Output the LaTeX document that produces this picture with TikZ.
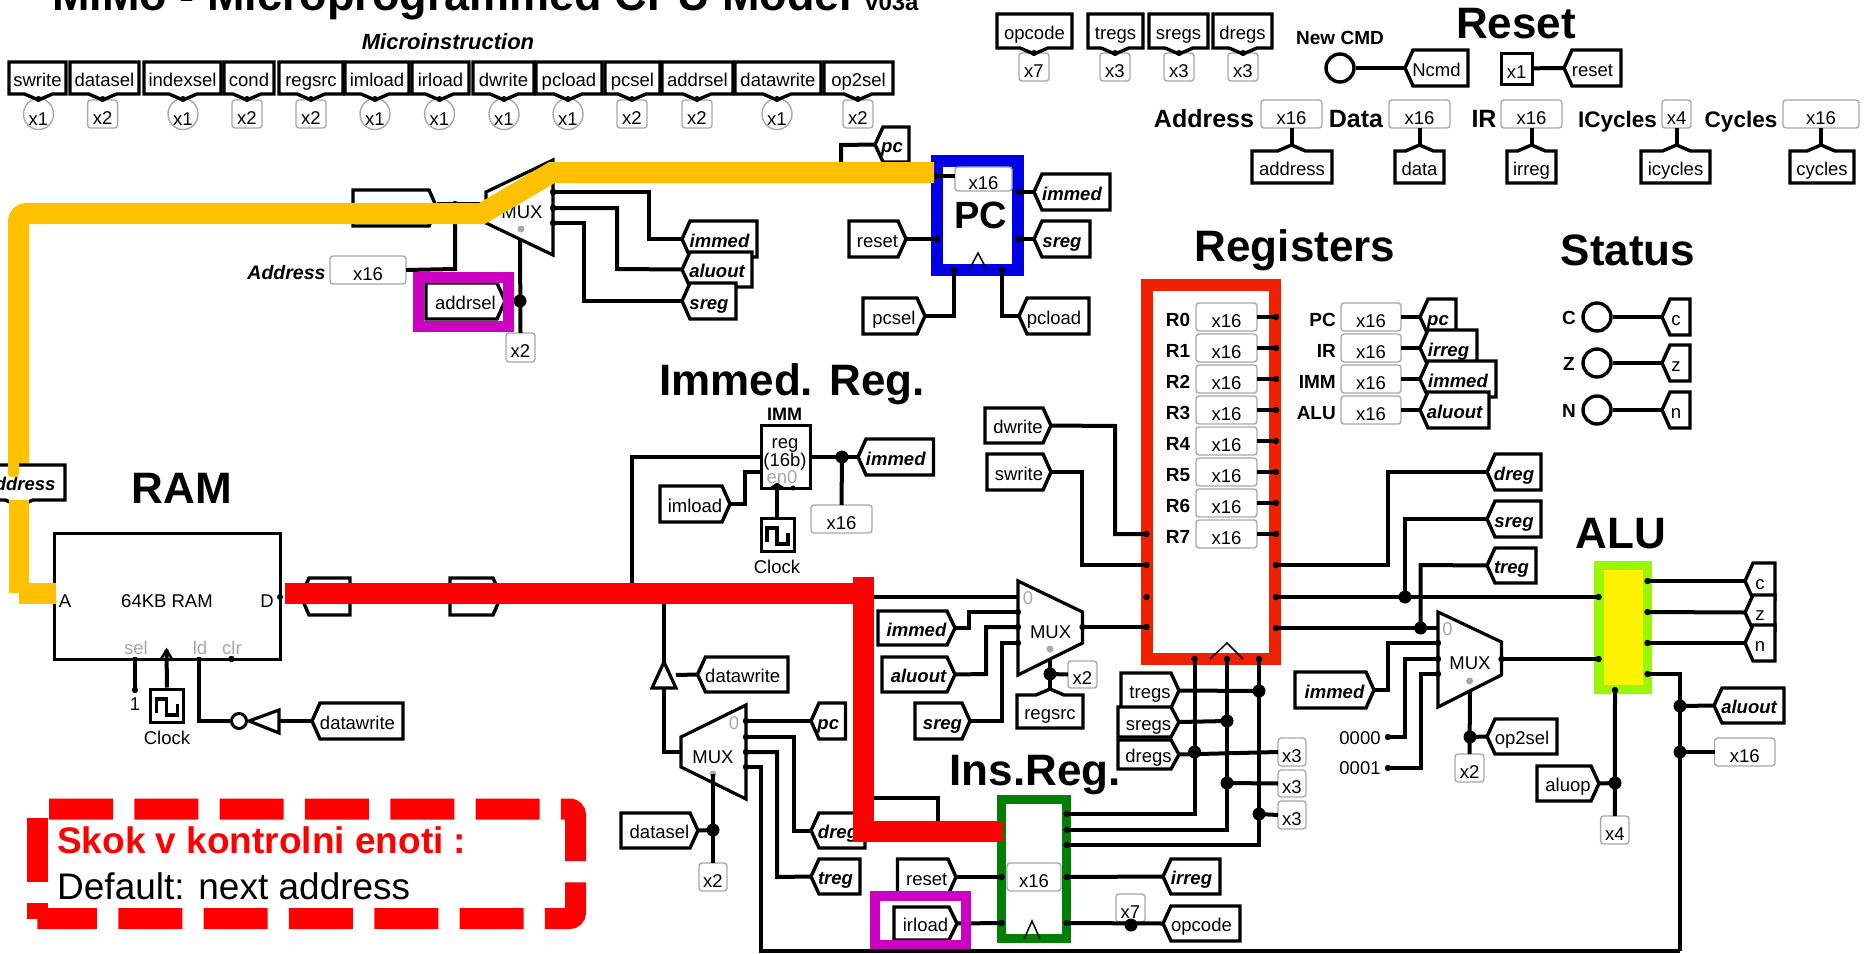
\documentclass[tikz,border=0pt]{standalone}
\usepackage{fontspec}
\setmainfont{Liberation Sans}
\usetikzlibrary{shapes.geometric}
\definecolor{hlorange}{HTML}{FFC000}
\definecolor{hlred}{HTML}{FF0000}
\definecolor{hlblue}{HTML}{0000E6}
\definecolor{hlreg}{HTML}{EE2200}
\definecolor{hlgreen}{HTML}{008000}
\definecolor{hllime}{HTML}{99F800}
\definecolor{hlpurple}{HTML}{CC00C0}
\definecolor{pingray}{HTML}{A8A8A8}
\tikzset{
  wire/.style={line width=4pt,black,line join=miter},
  thinw/.style={line width=2.4pt,black},
  tagline/.style={draw=black,fill=white,line width=3.4pt,line join=miter},
  tagtext/.style={inner sep=0pt,outer sep=0pt,font=\fontsize{18.5}{18.5}\selectfont,text height=17pt,text depth=1pt,align=center},
  bi/.style={font=\fontsize{18.5}{18.5}\selectfont\bfseries\itshape},
  valbox/.style={draw=pingray,fill=white,line width=1.4pt,rounded corners=3pt,inner sep=0pt,outer sep=0pt,font=\fontsize{18.5}{18.5}\selectfont,text height=21pt,text depth=1pt},
  valell/.style={ellipse,draw=pingray,fill=white,line width=1.4pt,inner sep=0pt,outer sep=0pt,font=\fontsize{18.5}{18.5}\selectfont,text height=22pt,text depth=0pt},
  title/.style={font=\fontsize{44}{44}\selectfont\bfseries,inner sep=0pt},
  blab/.style={font=\fontsize{19}{19}\selectfont\bfseries,inner sep=0pt},
  biglab/.style={font=\fontsize{25}{25}\selectfont\bfseries,inner sep=0pt,anchor=base},
  plain/.style={font=\fontsize{18.5}{18.5}\selectfont,inner sep=0pt},
  graylab/.style={font=\fontsize{18.5}{18.5}\selectfont,text=pingray,inner sep=0pt},
  muxshape/.style={draw=black,fill=white,line width=3.2pt,line join=miter},
  caret/.style={draw=black,line width=1.5pt},
  frameline/.style={inner sep=0pt,outer sep=0pt},
}
\newcommand\TagL[7][]{\pgfmathsetmacro\tcx{(#3+#4)/2}\pgfmathsetmacro\tcy{(#5+#6)/2}\pgfmathsetmacro\tw{#4-#3}\pgfmathsetmacro\th{#6-#5}%
  \path[tagline] (#3,\tcy) -- (#3+8,#5) -- (#4,#5) -- (#4,#6) -- (#3+8,#6) -- cycle;
  \node[tagtext,#1,minimum width=\tw pt,minimum height=\th pt] (#2) at (\tcx,\tcy) {#7};}
\newcommand\TagR[7][]{\pgfmathsetmacro\tcx{(#3+#4)/2}\pgfmathsetmacro\tcy{(#5+#6)/2}\pgfmathsetmacro\tw{#4-#3}\pgfmathsetmacro\th{#6-#5}%
  \path[tagline] (#4,\tcy) -- (#4-8,#5) -- (#3,#5) -- (#3,#6) -- (#4-8,#6) -- cycle;
  \node[tagtext,#1,minimum width=\tw pt,minimum height=\th pt] (#2) at (\tcx,\tcy) {#7};}
% TagD/TagU: [style]{name}{x0}{x1}{y0}{y1}{tipx}{text}
\newcommand\TagD[8][]{\pgfmathsetmacro\tcx{(#3+#4)/2}\pgfmathsetmacro\tcy{(#5+#6)/2}\pgfmathsetmacro\tw{#4-#3}\pgfmathsetmacro\th{#6-#5}%
  \path[tagline] (#3,#5) -- (#4,#5) -- (#4,#6) -- (#7+14,#6) -- (#7,#6+6) -- (#7-14,#6) -- (#3,#6) -- cycle;
  \coordinate (#2-tip) at (#7,#6+5);
  \node[tagtext,#1,minimum width=\tw pt,minimum height=\th pt] (#2) at (\tcx,\tcy) {#8};}
\newcommand\TagU[8][]{\pgfmathsetmacro\tcx{(#3+#4)/2}\pgfmathsetmacro\tcy{(#5+#6)/2}\pgfmathsetmacro\tw{#4-#3}\pgfmathsetmacro\th{#6-#5}%
  \path[tagline] (#3,#6) -- (#4,#6) -- (#4,#5) -- (#7+14,#5) -- (#7,#5-6) -- (#7-14,#5) -- (#3,#5) -- cycle;
  \coordinate (#2-tip) at (#7,#5-5);
  \node[tagtext,#1,minimum width=\tw pt,minimum height=\th pt] (#2) at (\tcx,\tcy) {#8};}
% [style]{name}{x0}{x1}{y0}{y1}{text}
\newcommand\Val[7][valbox]{\pgfmathsetmacro\tcx{(#3+#4)/2}\pgfmathsetmacro\tcy{(#5+#6)/2}\pgfmathsetmacro\tw{#4-#3}\pgfmathsetmacro\th{#6-#5}%
  \node[#1,minimum width=\tw pt,minimum height=\th pt] (#2) at (\tcx,\tcy) {#7};}
% {name}{colour}{line width}{cx0}{cx1}{cy0}{cy1}{fill}
\newcommand\Frame[8]{\pgfmathsetmacro\tcx{(#4+#5)/2}\pgfmathsetmacro\tcy{(#6+#7)/2}\pgfmathsetmacro\tw{#5-#4}\pgfmathsetmacro\th{#7-#6}%
  \node[frameline,draw=#2,line width=#3pt,fill=#8,minimum width=\tw pt,minimum height=\th pt] (#1) at (\tcx,\tcy) {};}
\newcommand\Pt[3]{\coordinate (#1) at (#2,#3); \fill (#1) circle (3.2pt);}
\newcommand\Jn[3]{\coordinate (#1) at (#2,#3); \fill (#1) circle (6.5pt);}
% clock: {name}{x}{y} top-left, 33x33
\newcommand\ClockBox[3]{\pgfmathsetmacro\tcx{#2+16.5}\pgfmathsetmacro\tcy{#3+16.5}%
  \node[draw=black,fill=white,line width=3pt,inner sep=0pt,minimum size=33pt] (#1) at (\tcx,\tcy) {};
  \draw[line width=3.4pt,line join=miter] (#2+6,#3+24) -- (#2+6,#3+10) -- (#2+16,#3+10) -- (#2+16,#3+26) -- (#2+27,#3+26) -- (#2+27,#3+15);}
\begin{document}
\begin{tikzpicture}[x=1pt,y=-1pt]
\useasboundingbox (0,0) rectangle (1865,953);
\fill[white] (0,0) rectangle (1865,953);

% titles
\node[inner sep=0pt,anchor=base west,font=\fontsize{45}{45}\selectfont\bfseries] (ttl) at (52,10) {MiMo - Microprogrammed CPU Model};
\node[inner sep=0pt,anchor=base west,font=\fontsize{24}{24}\selectfont\bfseries] (ttlv) at (865,10) {v03a};
\node[font=\fontsize{22}{22}\selectfont\bfseries\itshape,inner sep=0pt] (micro) at (448,42) {Microinstruction};
\node[title] (tReset) at (1516,24) {Reset};
\node[title] (tRegs) at (1295,250) {Registers};
\node[title] (tStatus) at (1628,250) {Status};
\node[title] (tImm) at (792,384) {Immed. Reg.};
\node[title] (tRam) at (182,488) {RAM};
\node[title] (tAlu) at (1621,534) {ALU};
\node[title] (tIr) at (1035,775) {Ins.Reg.};

% top row of control fields
\foreach \n/\a/\b/\t/\s/\v in {swrite/9/66/38.5/valell/x1,datasel/70/139/102.6/valbox/x2,indexsel/144/221/183/valell/x1,cond/224/274/247/valbox/x2,regsrc/279/343/311/valbox/x2,imload/345/409/375/valell/x1,irload/412/469/439.5/valell/x1,dwrite/473/534/504/valell/x1,pcload/536/602/568/valell/x1,pcsel/605/660/632/valbox/x2,addrsel/662/733/697/valbox/x2,datawrite/735/821/777/valell/x1,op2sel/824/893/858/valbox/x2}{
  \pgfmathsetmacro\vl{\t-15}\pgfmathsetmacro\vr{\t+15}
  \Val[\s]{v\n}{\vl}{\vr}{100}{128}{\v}
  \TagD{f\n}{\a}{\b}{62}{94}{\t}{\n}
  \fill (f\n-tip) circle (3pt);
}
% second group
\foreach \n/\a/\b/\t/\v in {opcode/997/1072/1034/x7,tregs/1088/1143/1115/x3,sregs/1149/1208/1179/x3,dregs/1213/1272/1243/x3}{
  \pgfmathsetmacro\vl{\t-15}\pgfmathsetmacro\vr{\t+15}
  \Val{v\n}{\vl}{\vr}{53}{81}{\v}
  \TagD{f\n}{\a}{\b}{14}{48}{\t}{\n}
  \fill (f\n-tip) circle (3pt);
}
% new cmd / reset
\node[blab] (lNew) at (1340,38) {New CMD};
\node[circle,draw=black,line width=3.4pt,inner sep=0pt,minimum size=28pt] (cCmd) at (1340,68) {};
\TagL{tNcmd}{1405}{1468}{50}{86}{Ncmd}
\draw[wire] (cCmd) -- (tNcmd.west);
\node[draw=black,fill=white,line width=3pt,inner sep=0pt,minimum width=31pt,minimum height=31pt,font=\fontsize{18.5}{18.5}\selectfont,text height=21pt,text depth=1pt] (bReset) at (1516.5,68.5) {x1};
\TagL{tReset1}{1564}{1621}{50}{86}{reset}
\draw[wire] (bReset) -- (tReset1.west);
% probes row
\foreach \lab/\lx/\fs/\val/\a/\b/\ta/\tb/\txt/\nm in {Address/1204/25/x16/1261/1322/1252/1332/address/ad,Data/1356/25/x16/1389/1450/1395/1444/data/da,IR/1484/25/x16/1501/1562/1507/1556/irreg/ir,ICycles/1617.5/22.5/x4/1662/1691/1641/1710/icycles/ic,Cycles/1741/22.5/x16/1783/1859/1790/1854/cycles/cy}{
  \pgfmathsetmacro\mid{(\a+\b)/2}
  \node[biglab,font=\fontsize{\fs}{\fs}\selectfont\bfseries] (pl\nm) at (\lx,127) {\lab};
  \Val{pv\nm}{\a}{\b}{100}{128}{\val}
  \TagU{pt\nm}{\ta}{\tb}{151}{183}{\mid}{\txt}
  \draw[wire] (pv\nm) -- (pt\nm-tip);
}

% ---------- PC ----------
\Frame{pcblock}{hlblue}{12}{937}{1018}{161}{270}{white}
\Val{pcv}{955}{1012}{167}{191}{x16}
\node[font=\fontsize{38}{38}\selectfont\bfseries,inner sep=0pt] (pcname) at (981,215) {PC};
\draw[caret] (969,270) -- (978,253) -- (987,270);
\Pt{pcA}{937}{176}\Pt{pcB}{1019}{192}\Pt{pcC}{1019}{239}\Pt{pcD}{937}{239}\Pt{pcE}{954}{270}\Pt{pcF}{1002}{270}
\draw[wire] (pcA) -- (pcv.west |- pcA);
\TagL[bi]{pcImm}{1034}{1110}{174}{210}{immed}
\TagL[bi]{pcSreg}{1034}{1090}{221}{257}{sreg}
\TagL{pcLoad}{1019}{1089}{298}{334}{pcload}
\TagR{pcSel}{863}{925}{298}{334}{pcsel}
\TagR{pcRst}{849}{906}{221}{257}{reset}
\TagL[bi]{pcPc}{875}{909}{127}{162}{pc}
\draw[wire] (pcB) -- (pcImm.west);
\draw[wire] (pcC) -- (pcSreg.west);
\draw[wire] (pcF) -- (1002,316) -- (pcLoad.west);
\draw[wire] (pcSel.east) -- (954,316) -- (pcE);
\draw[wire] (pcRst.east) -- (pcD);

% ---------- address mux ----------
\Pt{aO1}{553}{176}\Pt{aO2}{553}{192}\Pt{aO3}{553}{208}\Pt{aO4}{553}{223}
\coordinate (aIn) at (486,204);
\coordinate (aSel) at (520,238);
\TagL[bi]{aImm}{682}{757}{221}{257}{immed}
\TagL[bi]{aAlu}{682}{752}{252}{287}{aluout}
\TagL[bi]{aSreg}{682}{736}{283}{319}{sreg}
\draw[wire] (aO2) -- (649,192) -- (649,239) -- (aImm.west);
\draw[wire] (aO3) -- (617,208) -- (617,269) -- (aAlu.west);
\draw[wire] (aO4) -- (584,223) -- (584,301) -- (aSreg.west);
\draw[wire] (pcPc.west) -- (841,145) -- (841,176) -- (aO1);
\Val{aSelV}{506}{535}{333}{362}{x2}
\Val{aAddrV}{330}{406}{256}{284}{x16}
\node[blab,font=\fontsize{19.5}{19.5}\selectfont\bfseries\itshape] (aAddrL) at (286.5,273) {Address};
\Jn{aSelJ}{520}{301}
\draw[wire] (aSel) -- (aSelV.north);
\TagR{aAddrsel}{426}{505}{283}{319}{addrsel}
\draw[wire] (aAddrsel.east) -- (aSelJ);
\TagR{aHidden}{353}{437}{190}{226}{}
\Pt{aJoin}{455}{204}
\draw[wire] (aHidden.east |- aJoin) -- (aIn);
\draw[wire] (aAddrV.east) -- (455,269) -- (aJoin);
\path[muxshape] (486,192) -- (553,160) -- (553,255) -- (486,223) -- cycle;
\node[plain] (aMux) at (522,212) {MUX};
\fill[pingray] (521,229) circle (3.5pt);
\Pt{aP1}{553}{192}\Pt{aP2}{553}{208}\Pt{aP3}{553}{223}
\draw[wire] (aSel) -- (520,250);
\Frame{aPurple}{hlpurple}{11}{418}{508}{277}{326}{none}

% ---------- RAM ----------
\Frame{ram}{black}{3}{54}{280}{533}{659}{white}
\node[plain] (ramT) at (167,601) {64KB RAM};
\node[plain] (ramA) at (65,601) {A};
\node[plain] (ramD) at (267,601) {D};
\node[graylab] (ramS) at (136,648) {sel};
\node[graylab] (ramL) at (200,648) {ld};
\node[graylab] (ramC) at (232,648) {clr};
\fill (280,597) circle (3pt);
\Pt{ramClr}{231.5}{659}
\coordinate (ramSel) at (135,657);
\coordinate (ramClk) at (166.5,650);
\coordinate (ramLd) at (199,657);
\Pt{one}{135}{690}
\node[plain] (oneL) at (135,704) {1};
\draw[wire] (ramSel) -- (one);
\ClockBox{clk1}{150.5}{689}
\draw[wire] (clk1.north) -- (ramClk);
\draw[thinw] (161,659) -- (ramClk) -- (172,659);
\node[plain] (clk1L) at (167,738) {Clock};
\node[circle,draw=black,fill=white,line width=3pt,inner sep=0pt,minimum size=15pt] (inv) at (239,721) {};
\path[muxshape] (249,721) -- (279,710) -- (279,733) -- cycle;
\coordinate (invIn) at (279,721);
\TagL{ramDw}{312}{403}{703}{739}{datawrite}
\draw[wire] (ramDw.west) -- (invIn);
\draw[wire] (ramLd) -- (199,721) -- (inv.west);
% tags under the red bus
\TagL{hid1}{301}{350}{578}{615}{}
\TagR{hid2}{450}{501}{578}{615}{}

% ---------- IMM ----------
\coordinate (bus1) at (632,594);
\coordinate (bus2) at (664,594);
\coordinate (bus3) at (873,798);
\Frame{imm}{black}{3}{761}{810}{425}{488}{white}
\node[blab,font=\fontsize{18}{18}\selectfont\bfseries] (immL) at (784.5,414) {IMM};
\node[plain] (immT1) at (785,445) {reg};
\node[plain] (immT2) at (785,462) {(16b)};
\node[graylab] (immT3) at (782,477) {en0};
\draw[wire] (bus1) -- (632,457) -- (imm.west |- 632,457);
\TagL[bi]{immOut}{858}{933.5}{439}{475}{immed}
\Val{immV}{811}{872}{505}{533}{x16}
\Jn{immJ}{842}{457}
\draw[wire] (imm.east |- immJ) -- (immOut.west);
\draw[wire] (immJ) -- (immV.north);
\TagR{immLoad}{660}{730}{486}{522}{imload}
\draw[wire] (immLoad.east) -- (744.5,504) -- (744.5,472) -- (761,472);
\ClockBox{clk2}{761}{518}
\coordinate (immClk) at (777,484);
\draw[wire] (clk2.north -| immClk) -- (immClk);
\draw[thinw] (771,488) -- (immClk) -- (783,488);
\fill (793,488) circle (2.5pt);
\node[plain] (clk2L) at (777,567) {Clock};

% ---------- register file ----------
\Frame{regs}{hlreg}{12}{1147}{1275}{285}{659}{white}
\draw[caret] (1210,659) -- (1227,643) -- (1243,659);
\foreach \i/\y in {0/317,1/348,2/379,3/410,4/441,5/472,6/503,7/534}{
  \pgfmathsetmacro\yy{\y-14}\pgfmathsetmacro\yz{\y+14}\pgfmathsetmacro\yl{\y+3}
  \node[blab] (rL\i) at (1178,\yl) {R\i};
  \Val{rV\i}{1196}{1257}{\yy}{\yz}{x16}
  \coordinate (rO\i) at (1276,\y);
  \draw[wire] (rV\i.east |- rO\i) -- (rO\i);
}
\coordinate (rD) at (1276,565);
\coordinate (rS) at (1276,597);
\coordinate (rT) at (1276,628);
\coordinate (rW1) at (1147,534);
\coordinate (rW2) at (1147,565);
\coordinate (rW3) at (1147,597);
\coordinate (rW4) at (1147,627);
\coordinate (rB1) at (1194.6,659);
\coordinate (rB2) at (1227,659);
\coordinate (rB3) at (1259,659);
% right probes
\foreach \l/\y/\t/\e/\nm in {PC/317/pc/1456/a,IR/348/irreg/1477/b,IMM/379/immed/1496/c,ALU/410/aluout/1489/d}{
  \pgfmathsetmacro\yy{\y-14}\pgfmathsetmacro\yz{\y+14}\pgfmathsetmacro\ya{\y-18}\pgfmathsetmacro\yb{\y+18}\pgfmathsetmacro\yl{\y+3}
  \node[blab,anchor=east] (qL\nm) at (1336,\yl) {\l};
  \Val{qV\nm}{1341}{1401}{\yy}{\yz}{x16}
  \TagL[bi]{qT\nm}{1420}{\e}{\ya}{\yb}{\t}
  \draw[wire] (qV\nm.east) -- (qT\nm.west);
}
% status
\foreach \l/\t/\y/\nm in {C/c/317/c,Z/z/363/z,N/n/410/n}{
  \pgfmathsetmacro\ya{\y-18}\pgfmathsetmacro\yb{\y+18}\pgfmathsetmacro\yl{\y+1}
  \node[blab] (sL\nm) at (1569,\yl) {\l};
  \node[circle,draw=black,line width=3.4pt,inner sep=0pt,minimum size=28pt] (sC\nm) at (1597,\y) {};
  \TagL{sT\nm}{1662}{1690}{\ya}{\yb}{\t}
  \draw[wire] (sC\nm) -- (sT\nm.west);
}
\TagR{dw}{985}{1051}{408}{443}{dwrite}
\TagR{sw}{987}{1051}{454}{490}{swrite}
\draw[wire] (dw.east) -- (1115,426) -- (1115,534) -- (rW1);
\draw[wire] (sw.east) -- (1082,472) -- (1082,565) -- (rW2);

% ---------- reg source mux ----------
\coordinate (mI0) at (1018,597);
\coordinate (mI1) at (1018,612);
\coordinate (mI2) at (1018,627);
\coordinate (mI3) at (1018,643);
\coordinate (mOut) at (1082.5,627);
\coordinate (mSel) at (1050,659);
\TagR[bi]{mImm}{878}{955}{611}{645}{immed}
\TagR[bi]{mAlu}{882}{955}{657}{692}{aluout}
\TagR[bi]{mSreg}{915}{970}{703}{739}{sreg}
\draw[wire] (863,597) -- (mI0);
\draw[wire] (mImm.east) -- (969,628) -- (969,612) -- (mI1);
\draw[wire] (mAlu.east) -- (986,674) -- (986,627) -- (mI2);
\draw[wire] (mSreg.east) -- (1001.6,721) -- (1001.6,643) -- (mI3);
\draw[wire] (mOut) -- (rW4);
\Val{mV}{1068}{1097}{661}{688}{x2}
\TagU{mSrc}{1017}{1083}{695}{728}{1050}{regsrc}
\draw[wire] (mSel) -- (mSrc-tip);
\Jn{mJ}{1050}{674}
\draw[wire] (mJ) -- (mV.west);
\path[muxshape] (1018,581) -- (1082.5,612) -- (1082.5,643) -- (1018,675) -- cycle;
\node[plain] (mMux) at (1050.6,632) {MUX};
\node[graylab] (m0) at (1028,598) {0};
\fill[pingray] (1050,649) circle (3.5pt);
\Pt{mP0}{1018}{612}\Pt{mP1}{1018}{627}\Pt{mP2}{1018}{643}\Pt{mP3}{1082.5}{627}
\draw[wire] (mSel) -- (1050,668);

% ---------- instruction register ----------
\Frame{ireg}{hlgreen}{9}{1001.5}{1066.5}{799.5}{938.5}{white}
\Val{irV}{1007}{1061}{863}{891}{x16}
\draw[caret] (1024,939) -- (1032,921) -- (1040,939);
\coordinate (iO1) at (1066.6,814);
\coordinate (iO2) at (1066.6,830);
\coordinate (iO3) at (1066.6,845);
\coordinate (iO4) at (1066.6,877);
\coordinate (iO5) at (1066.6,923);
\coordinate (iI1) at (1001.6,831);
\coordinate (iI2) at (1001.6,877);
\coordinate (iI3) at (1001.6,923);
\TagR{iRst}{897.5}{956}{859}{895}{reset}
\TagR{iLoad}{894}{957}{907}{940}{irload}
\TagL[bi]{iIrreg}{1163}{1220}{859}{894}{irreg}
\TagL{iOp}{1163}{1240}{906}{941}{opcode}
\draw[wire] (iRst.east) -- (iI2);
\draw[wire] (iLoad.east) -- (iI3);
\draw[wire] (iO4) -- (iIrreg.west);
\Val{iV7}{1116}{1145}{894}{922}{x7}
\draw[wire] (iO5) -- (iOp.west);
\Jn{iJ}{1131}{925}
\Frame{iPurple}{hlpurple}{10}{875}{966}{896}{945}{none}
% bus fan-out
\TagR{bTregs}{1121}{1179}{673}{708}{tregs}
\TagR{bSregs}{1118}{1179}{707}{737}{sregs}
\TagR{bDregs}{1118}{1179}{740}{769}{dregs}
\Val{bX1}{1278}{1306}{738}{766}{x3}
\Val{bX2}{1278}{1306}{770}{797}{x3}
\Val{bX3}{1278}{1306}{801}{829}{x3}
\draw[wire] (rB1) -- (1194.6,814) -- (iO1);
\draw[wire] (rB2) -- (1227,830) -- (iO2);
\draw[wire] (rB3) -- (1259,845) -- (iO3);
\Jn{jT}{1259}{691}\Jn{jS}{1227}{721}\Jn{jD}{1194.6}{752}\Jn{jX2}{1227}{783}\Jn{jX3}{1259}{814}
\draw[wire] (bTregs.east) -- (jT);
\draw[wire] (bSregs.east) -- (jS);
\draw[wire] (bDregs.east) -- (bX1.west);
\draw[wire] (jX2) -- (bX2.west);
\draw[wire] (jX3) -- (bX3.west);

% ---------- op2 mux + ALU ----------
\Frame{alu}{hllime}{9.5}{1599}{1647.5}{565.5}{689.5}{yellow}
\coordinate (uI0) at (1438,628);
\coordinate (uI1) at (1438,643);
\coordinate (uI2) at (1438,659);
\coordinate (uI3) at (1438,674);
\coordinate (uO) at (1501.5,659);
\coordinate (uS) at (1470,690);
\TagL[bi]{uDreg}{1487}{1541}{454}{490}{dreg}
\TagL[bi]{uSreg}{1487}{1541}{501}{537}{sreg}
\TagL[bi]{uTreg}{1487}{1536}{548}{583}{treg}
\TagR[bi]{uImm}{1295}{1374}{672}{708}{immed}
\node[plain] (u0) at (1360,738) {0000};
\node[plain] (u1) at (1360,768) {0001};
\Pt{u0s}{1388}{737}\Pt{u1s}{1388}{768}
\Jn{jSr}{1405}{597}\Jn{jTr}{1420.6}{628}
\coordinate (aL1) at (1598.5,597);
\coordinate (aL2) at (1598.5,659);
\draw[wire] (rD) -- (1388,565) -- (1388,472) -- (uDreg.west);
\draw[wire] (rS) -- (aL1);
\draw[wire] (rT) -- (uI0);
\draw[wire] (jSr) -- (1405,519) -- (uSreg.west);
\draw[wire] (jTr) -- (1420.6,565) -- (uTreg.west);
\draw[wire] (uImm.east) -- (1388,690) -- (1388,643) -- (uI1);
\draw[wire] (u0s) -- (1405,737) -- (1405,659) -- (uI2);
\draw[wire] (u1s) -- (1421,768) -- (1421,674) -- (uI3);
\draw[wire] (uO) -- (aL2);
\TagL{uOp}{1487}{1557}{719}{754}{op2sel}
\Val{uX}{1455}{1484}{754}{782}{x2}
\draw[wire] (uS) -- (uX.north);
\Jn{uJ}{1470}{737}
\draw[wire] (uJ) -- (uOp.west);
\path[muxshape] (1438,612) -- (1501.5,642) -- (1501.5,675) -- (1438,707) -- cycle;
\node[plain] (uMux) at (1470,663) {MUX};
\node[graylab] (uZero) at (1447.5,629) {0};
\fill[pingray] (1469.6,681) circle (3.5pt);
\Pt{uPa}{1438}{643}\Pt{uPb}{1438}{659}\Pt{uPc}{1438}{674}\Pt{uPd}{1501.5}{659}
\draw[wire] (uS) -- (1470,698);
% ALU outputs
\foreach \t/\y/\ya/\yb in {c/581/563/599,z/612/595/630,n/643/625/661}{
  \coordinate (ao\t) at (1647.5,\y);
  \TagL{at\t}{1745}{1775}{\ya}{\yb}{\t}
  \draw[wire] (ao\t) -- (at\t.west);
}
\coordinate (aoR) at (1647.5,674);
\coordinate (aoB) at (1615,690);
\coordinate (botR) at (1680,951);
\TagL[bi]{aluOut}{1714}{1784}{688}{723}{aluout}
\Val{aluV}{1714.5}{1775}{738}{766}{x16}
\TagR{aluOp}{1537}{1599}{766}{801}{aluop}
\Val{aluX}{1600.6}{1629}{816}{844}{x4}
\draw[wire] (aoR) -- (1680,674) -- (botR);
\Jn{aJ1}{1680}{706}\Jn{aJ2}{1680}{752}
\draw[wire] (aJ1) -- (aluOut.west);
\draw[wire] (aJ2) -- (aluV.west);
\draw[wire] (aoB) -- (aluX.north);
\Jn{aJ3}{1615}{783}
\draw[wire] (aluOp.east) -- (aJ3);

% ---------- data mux ----------
\coordinate (dO1) at (746,721);
\coordinate (dO2) at (746,737);
\coordinate (dO3) at (746,752);
\coordinate (dO4) at (746,767);
\coordinate (dL) at (681,752);
\coordinate (dS) at (713,774);
\TagL[bi]{dPc}{811}{845.5}{703}{739}{pc}
\TagL[bi]{dTreg}{811}{860}{859}{894}{treg}
\draw[wire] (dO1) -- (dPc.west);
\draw[wire] (dO2) -- (794,737) -- (794,831) -- (811,831);
\draw[wire] (dO3) -- (777,752) -- (777,877) -- (dTreg.west);
\draw[wire] (dO4) -- (761,767) -- (761,951) -- (botR);
\TagL[bi]{dDreg}{811}{865}{813}{848}{dreg}
\draw[wire] (bus2) -- (664,662);
\draw[wire] (664,688) -- (664,752) -- (dL);
\draw[wire] (bus3) -- (938,798) -- (938,822);
\TagL{dDw}{697.5}{788}{657}{692}{datawrite}
\coordinate (bufR) at (676,675);
\draw[wire] (bufR) -- (dDw.west);
\path[muxshape] (664,662) -- (676,688) -- (652,688) -- cycle;
\TagR{dSel}{621}{698}{813}{848}{datasel}
\Val{dX}{699}{727}{863}{891}{x2}
\draw[wire] (dS) -- (dX.north);
\Jn{dJ}{713}{830}
\draw[wire] (dSel.east) -- (dJ);
\path[muxshape] (681,737) -- (746,705) -- (746,799) -- (681,767) -- cycle;
\node[plain] (dMux) at (713,757) {MUX};
\node[graylab] (dZero) at (734,723) {0};
\fill[pingray] (713,774) circle (3.5pt);
\Pt{dP0}{746}{721}\Pt{dP1}{746}{737}\Pt{dP2}{746}{752}\Pt{dP3}{746}{767}
\draw[wire] (dS) -- (713,784);

% connection dots on frames
\Pt{d1}{1146.5}{534}\Pt{d2}{1146.5}{565}\Pt{d3}{1146.5}{597}\Pt{d4}{1146.5}{627}
\foreach \y in {317,348,379,410,441,472,503,534,565,597,628}{\fill (1276,\y) circle (3.2pt);}
\fill (rB1) circle (3.2pt); \fill (rB2) circle (3.2pt); \fill (rB3) circle (3.2pt);
\foreach \y in {814,830,845,877,923}{\fill (1066.6,\y) circle (3.2pt);}
\foreach \y in {877,923}{\fill (1001.6,\y) circle (3.2pt);}
\fill (aL1) circle (3.2pt); \fill (aL2) circle (3.2pt);
\foreach \y in {581,612,643,674}{\fill (1647.5,\y) circle (3.2pt);}
\fill (aoB) circle (3.2pt);

% ---------- highlighted paths ----------
\draw[hlorange,line width=21pt,line join=miter] (934,172.5) -- (552,172.5) -- (482,213.5) [rounded corners=8pt] -- (18.5,213.5) -- (18.5,465);
\TagD[bi]{lAddr}{-25}{65}{465}{500}{19}{address}
\fill[hlorange,rounded corners=3pt] (8,460) rectangle (19,477);
\fill[hlorange] (9,500) rectangle (29,593);
\fill[hlorange] (19,583) rectangle (56,604);
\fill[hlred] (284.5,583) rectangle (873,604);
\fill[hlred] (853,577) rectangle (874,842);
\fill[hlred] (853,821) rectangle (1003,842);

% ---------- note ----------
\draw[hlred,line width=21pt,dash pattern=on 64pt off 21.33pt,rounded corners=6pt] (49,809) -- (575.5,809) -- (575.5,918.5) -- (37.3,918.5);
\draw[hlred,line width=21pt] (37,818) -- (37,882);
\draw[hlred,line width=21pt] (37,903) -- (37,919);
\node[anchor=base west,inner sep=0pt,font=\fontsize{37}{37}\selectfont\bfseries,text=hlred] (note1) at (57,853) {Skok v kontrolni enoti :};
\node[anchor=base west,inner sep=0pt,font=\fontsize{37}{37}\selectfont] (note2) at (57,899) {Default: next address};
\end{tikzpicture}
\end{document}
